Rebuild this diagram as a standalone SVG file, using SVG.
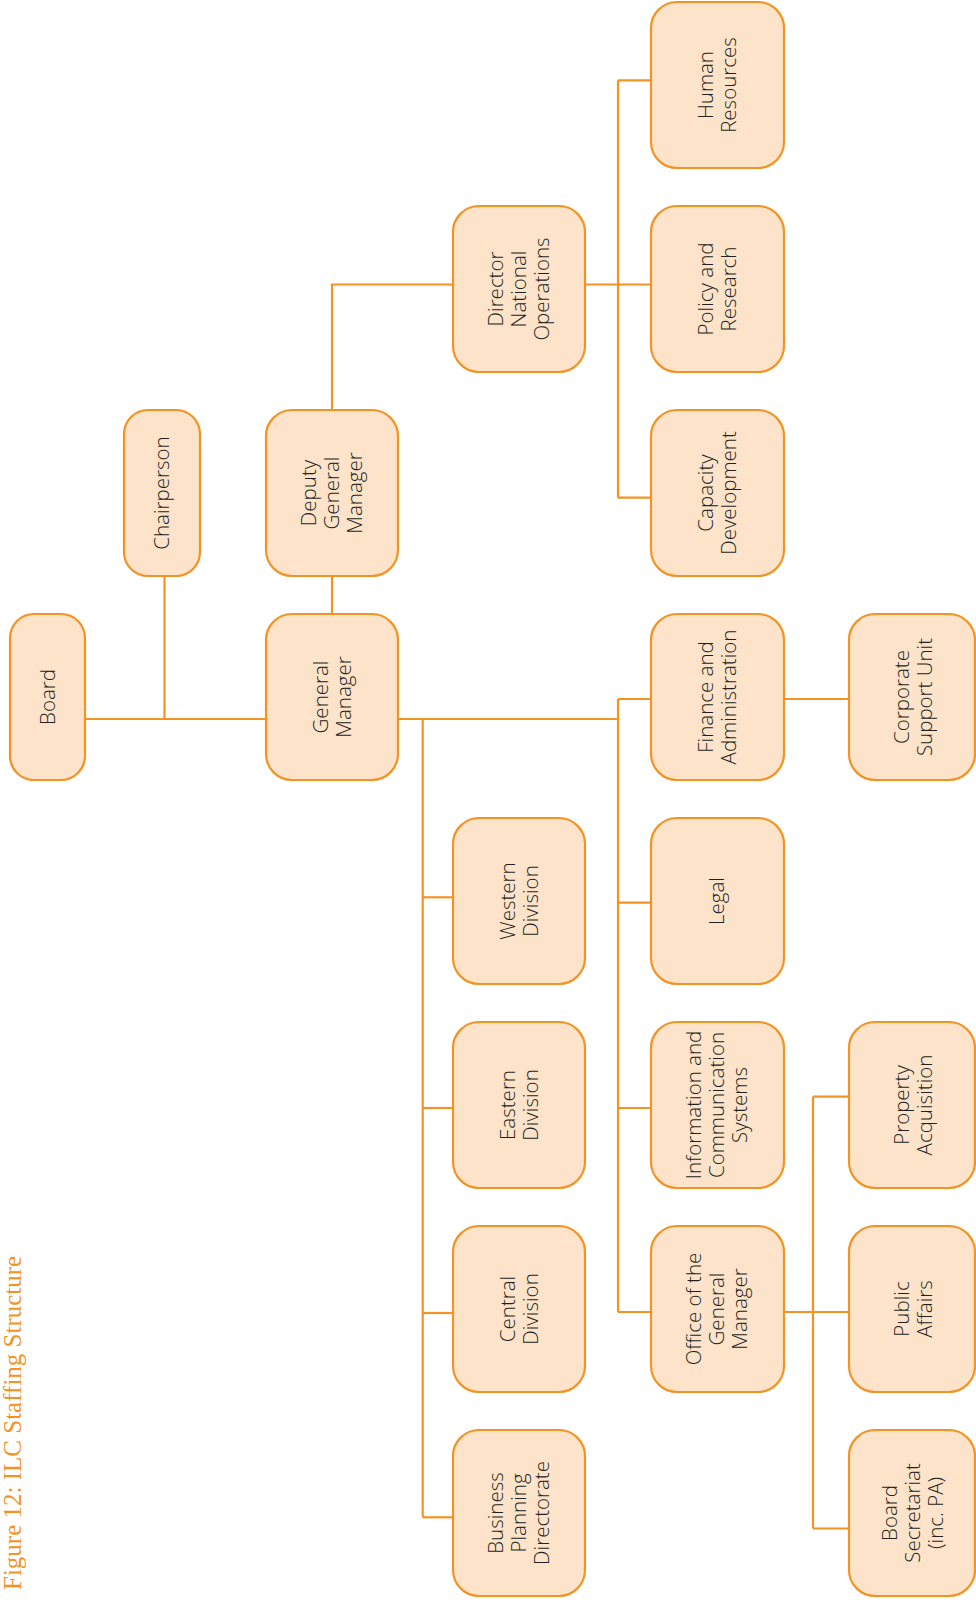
<svg xmlns="http://www.w3.org/2000/svg" width="976" height="1603" viewBox="0 0 976 1603">
<style>
.box{fill:#FCE3C9;stroke:#F39324;stroke-width:2.2}
.lbl{font-family:"Open Sans","Noto Sans","Liberation Sans",sans-serif;font-weight:300;font-size:20.5px;fill:#231F20;text-anchor:middle}
.con{fill:none;stroke:#F39324;stroke-width:2.2}
.title{font-family:"Liberation Serif","DejaVu Serif",serif;font-size:25px;fill:#F39324}
</style>
<rect width="976" height="1603" fill="#FFFFFF"/>
<text class="title" transform="translate(21,1590) rotate(-90)">Figure 12: ILC Staffing Structure</text>
<g id="connectors">
<path class="con" d="M85 719 H266"/>
<path class="con" d="M164.5 576 V719"/>
<path class="con" d="M332 576 V614"/>
<path class="con" d="M332 410 V284.5 H453"/>
<path class="con" d="M585 284.5 H651"/>
<path class="con" d="M618 80.3 V497.7"/>
<path class="con" d="M618 80.3 H651"/>
<path class="con" d="M618 497.7 H651"/>
<path class="con" d="M398 719 H618"/>
<path class="con" d="M618 699 V1312"/>
<path class="con" d="M618 699 H651"/>
<path class="con" d="M784 699 H849"/>
<path class="con" d="M422.7 719 V1517.3"/>
<path class="con" d="M422.7 897.3 H453"/>
<path class="con" d="M422.7 1108 H453"/>
<path class="con" d="M422.7 1313 H453"/>
<path class="con" d="M422.7 1517.3 H453"/>
<path class="con" d="M618 902.7 H651"/>
<path class="con" d="M618 1108 H651"/>
<path class="con" d="M618 1312 H651"/>
<path class="con" d="M784 1312 H849"/>
<path class="con" d="M813 1096.7 V1528.5"/>
<path class="con" d="M813 1096.7 H849"/>
<path class="con" d="M813 1528.5 H849"/>
</g>
<g id="board"><rect class="box" x="10" y="614" width="75" height="166" rx="24"/>
<text class="lbl" transform="translate(47.5,697) rotate(-90)"><tspan x="0" y="7">Board</tspan></text></g>
<g id="chairperson"><rect class="box" x="124" y="410" width="76" height="166" rx="24"/>
<text class="lbl" transform="translate(162,493) rotate(-90)"><tspan x="0" y="7">Chairperson</tspan></text></g>
<g id="general-manager"><rect class="box" x="266" y="614" width="132" height="166" rx="26"/>
<text class="lbl" transform="translate(332,697) rotate(-90)"><tspan x="0" y="-4.5">General</tspan><tspan x="0" y="18.5">Manager</tspan></text></g>
<g id="deputy-general-manager"><rect class="box" x="266" y="410" width="132" height="166" rx="26"/>
<text class="lbl" transform="translate(332,493) rotate(-90)"><tspan x="0" y="-16">Deputy</tspan><tspan x="0" y="7">General</tspan><tspan x="0" y="30">Manager</tspan></text></g>
<g id="director-national-operations"><rect class="box" x="453" y="206" width="132" height="166" rx="26"/>
<text class="lbl" transform="translate(519,289) rotate(-90)"><tspan x="0" y="-16">Director</tspan><tspan x="0" y="7">National</tspan><tspan x="0" y="30">Operations</tspan></text></g>
<g id="human-resources"><rect class="box" x="651" y="2" width="133" height="166" rx="26"/>
<text class="lbl" transform="translate(717,85) rotate(-90)"><tspan x="0" y="-4.5">Human</tspan><tspan x="0" y="18.5">Resources</tspan></text></g>
<g id="policy-research"><rect class="box" x="651" y="206" width="133" height="166" rx="26"/>
<text class="lbl" transform="translate(717,289) rotate(-90)"><tspan x="0" y="-4.5">Policy and</tspan><tspan x="0" y="18.5">Research</tspan></text></g>
<g id="capacity-development"><rect class="box" x="651" y="410" width="133" height="166" rx="26"/>
<text class="lbl" transform="translate(717,493) rotate(-90)"><tspan x="0" y="-4.5">Capacity</tspan><tspan x="0" y="18.5">Development</tspan></text></g>
<g id="finance-administration"><rect class="box" x="651" y="614" width="133" height="166" rx="26"/>
<text class="lbl" transform="translate(717,697) rotate(-90)"><tspan x="0" y="-4.5">Finance and</tspan><tspan x="0" y="18.5">Administration</tspan></text></g>
<g id="corporate-support-unit"><rect class="box" x="849" y="614" width="126" height="166" rx="26"/>
<text class="lbl" transform="translate(913,697) rotate(-90)"><tspan x="0" y="-4.5">Corporate</tspan><tspan x="0" y="18.5">Support Unit</tspan></text></g>
<g id="western-division"><rect class="box" x="453" y="818" width="132" height="166" rx="26"/>
<text class="lbl" transform="translate(519,901) rotate(-90)"><tspan x="0" y="-4.5">Western</tspan><tspan x="0" y="18.5">Division</tspan></text></g>
<g id="eastern-division"><rect class="box" x="453" y="1022" width="132" height="166" rx="26"/>
<text class="lbl" transform="translate(519,1105) rotate(-90)"><tspan x="0" y="-4.5">Eastern</tspan><tspan x="0" y="18.5">Division</tspan></text></g>
<g id="central-division"><rect class="box" x="453" y="1226" width="132" height="166" rx="26"/>
<text class="lbl" transform="translate(519,1309) rotate(-90)"><tspan x="0" y="-4.5">Central</tspan><tspan x="0" y="18.5">Division</tspan></text></g>
<g id="business-planning-directorate"><rect class="box" x="453" y="1430" width="132" height="166" rx="26"/>
<text class="lbl" transform="translate(519,1513) rotate(-90)"><tspan x="0" y="-16">Business</tspan><tspan x="0" y="7">Planning</tspan><tspan x="0" y="30">Directorate</tspan></text></g>
<g id="legal"><rect class="box" x="651" y="818" width="133" height="166" rx="26"/>
<text class="lbl" transform="translate(717,901) rotate(-90)"><tspan x="0" y="7">Legal</tspan></text></g>
<g id="information-communication-systems"><rect class="box" x="651" y="1022" width="133" height="166" rx="26"/>
<text class="lbl" transform="translate(717,1105) rotate(-90)"><tspan x="0" y="-16">Information and</tspan><tspan x="0" y="7">Communication</tspan><tspan x="0" y="30">Systems</tspan></text></g>
<g id="office-general-manager"><rect class="box" x="651" y="1226" width="133" height="166" rx="26"/>
<text class="lbl" transform="translate(717,1309) rotate(-90)"><tspan x="0" y="-16">Office of the</tspan><tspan x="0" y="7">General</tspan><tspan x="0" y="30">Manager</tspan></text></g>
<g id="property-acquisition"><rect class="box" x="849" y="1022" width="126" height="166" rx="26"/>
<text class="lbl" transform="translate(913,1105) rotate(-90)"><tspan x="0" y="-4.5">Property</tspan><tspan x="0" y="18.5">Acquisition</tspan></text></g>
<g id="public-affairs"><rect class="box" x="849" y="1226" width="126" height="166" rx="26"/>
<text class="lbl" transform="translate(913,1309) rotate(-90)"><tspan x="0" y="-4.5">Public</tspan><tspan x="0" y="18.5">Affairs</tspan></text></g>
<g id="board-secretariat"><rect class="box" x="849" y="1430" width="126" height="166" rx="26"/>
<text class="lbl" transform="translate(913,1513) rotate(-90)"><tspan x="0" y="-16">Board</tspan><tspan x="0" y="7">Secretariat</tspan><tspan x="0" y="30">(inc. PA)</tspan></text></g>
</svg>
